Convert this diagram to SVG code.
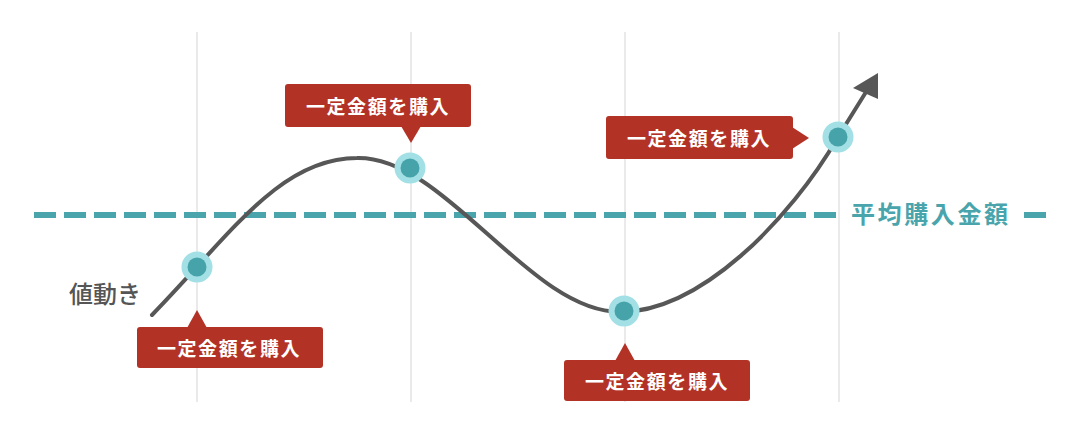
<svg xmlns="http://www.w3.org/2000/svg" width="1081" height="439" viewBox="0 0 1081 439">
<style>
.grid{stroke:#dcdcdc;stroke-width:1.2;fill:none}
.avg{stroke:#4aa4ac;stroke-width:6;fill:none;stroke-dasharray:22 8}
.curve{stroke:#575757;stroke-width:4;fill:none;stroke-linecap:round}
.outer{fill:#a3e0e6}
.inner{fill:#47a3aa}
.box{fill:#b33226}
.ct{fill:#fff;font-family:"Noto Sans CJK JP","Noto Sans CJK SC",sans-serif;font-weight:700;font-size:19px;letter-spacing:1.6px;text-anchor:middle;dominant-baseline:central}
.lbl{font-family:"Noto Sans CJK JP","Noto Sans CJK SC",sans-serif;font-size:24px}
</style>
<rect width="1081" height="439" fill="#fff"/>
<g id="grid">
<line class="grid" x1="197" y1="32" x2="197" y2="402"/>
<line class="grid" x1="411" y1="32" x2="411" y2="402"/>
<line class="grid" x1="625" y1="32" x2="625" y2="402"/>
<line class="grid" x1="839" y1="32" x2="839" y2="402"/>
</g>
<g id="average">
<line class="avg" x1="34" y1="215" x2="837" y2="215"/>
<line class="avg" x1="1024" y1="215" x2="1046" y2="215"/>
<text class="lbl" x="851" y="223" fill="#4aa4ac" font-weight="700" letter-spacing="2.6">平均購入金額</text>
</g>
<g id="connectors">
<path class="curve" d="M152,315 C230,235 280,158 357,158 C445,156 530,312 620,312 C700,312 790,220 838,137 L866,92"/>
<polygon points="878,73 853,88 878,99" fill="#575757"/>
</g>
<g id="label-price">
<text class="lbl" x="69" y="303" fill="#555" font-weight="500">値動き</text>
</g>
<g id="point1">
<circle class="outer" cx="197" cy="267" r="15.5"/>
<circle class="inner" cx="197" cy="267" r="9.5"/>
</g>
<g id="point2">
<circle class="outer" cx="410" cy="168" r="15.5"/>
<circle class="inner" cx="410" cy="168" r="9.5"/>
</g>
<g id="point3">
<circle class="outer" cx="624" cy="311" r="15.5"/>
<circle class="inner" cx="624" cy="311" r="9.5"/>
</g>
<g id="point4">
<circle class="outer" cx="838" cy="137" r="15.5"/>
<circle class="inner" cx="838" cy="137" r="9.5"/>
</g>
<g id="callout1">
<rect class="box" x="137" y="327" width="186" height="41" rx="3"/>
<polygon class="box" points="187,328 197,310 207,328"/>
<text class="ct" x="229" y="347.5">一定金額を購入</text>
</g>
<g id="callout2">
<rect class="box" x="285" y="84" width="186" height="43" rx="3"/>
<polygon class="box" points="401,126 411,143 421,126"/>
<text class="ct" x="378" y="105">一定金額を購入</text>
</g>
<g id="callout3">
<rect class="box" x="564" y="360" width="186" height="41" rx="3"/>
<polygon class="box" points="615,361 625,343 635,361"/>
<text class="ct" x="657" y="380.5">一定金額を購入</text>
</g>
<g id="callout4">
<rect class="box" x="606" y="116" width="187" height="43" rx="3"/>
<polygon class="box" points="792,127 809,138 792,149"/>
<text class="ct" x="699" y="137.5">一定金額を購入</text>
</g>
</svg>
